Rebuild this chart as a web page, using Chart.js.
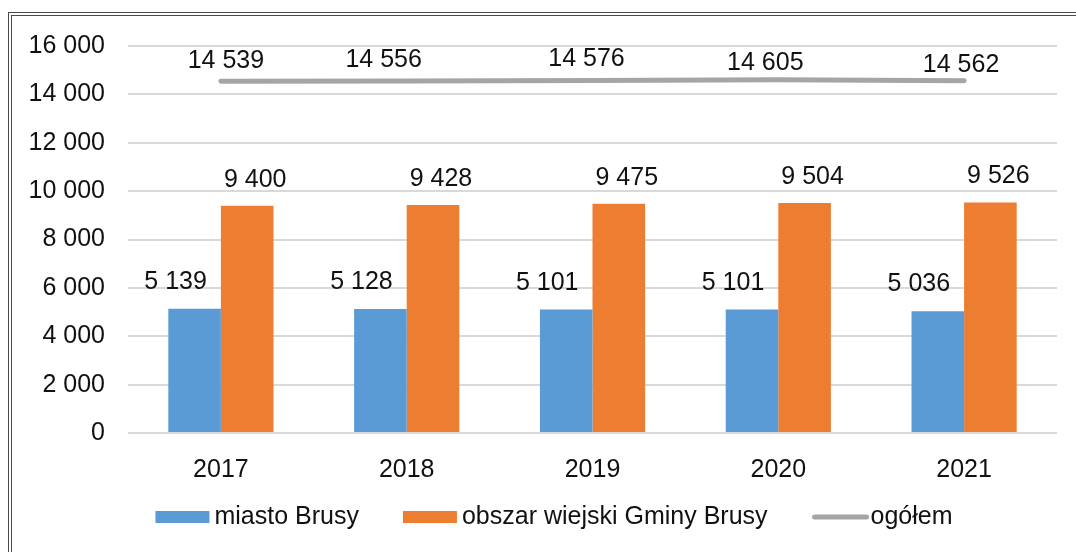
<!DOCTYPE html>
<html lang="pl">
<head>
  <meta charset="UTF-8">
  <title>Ludność gminy Brusy 2017-2021</title>
  <script src="https://cdn.jsdelivr.net/npm/chart.js"></script>
  <style>
    html, body { margin: 0; padding: 0; background: #fff; }
    #wrap { position: relative; width: 1076px; height: 552px; overflow: hidden; }
    #frame {
      position: absolute; left: 8px; top: 12px; width: 1200px; height: 700px;
      border-top: 4px double #4a4a4a; border-left: 4px double #4a4a4a;
    }
    canvas { position: absolute; left: 0; top: 0; }
  </style>
</head>
<body>
<div id="wrap">
  <div id="frame"></div>
  <canvas id="chart" width="1076" height="552"></canvas>
</div>
<script>
  const years = ['2017', '2018', '2019', '2020', '2021'];
  const miasto = [5139, 5128, 5101, 5101, 5036];
  const wies = [9400, 9428, 9475, 9504, 9526];
  const ogolem = [14539, 14556, 14576, 14605, 14562];
  const yTicks = [0, 2000, 4000, 6000, 8000, 10000, 12000, 14000, 16000];

  const FONT = '"Liberation Sans", Arial, sans-serif';
  const FS = 25;
  const fmt = n => String(n).replace(/\B(?=(\d{3})+(?!\d))/g, ' ');

  // label shifts (style only), px
  const labelStyle = [
    { dx: () => -19, dy: () => -27 },
    { dx: () => 8, dy: () => -26 },
    { dx: i => [5, -23, -6, -13, -3][i], dy: i => [-20, -21, -21, -17, -16][i] }
  ];

  const valueLabels = {
    id: 'valueLabels',
    afterDatasetsDraw(chart) {
      const ctx = chart.ctx;
      ctx.save();
      ctx.font = FS + 'px ' + FONT;
      ctx.fillStyle = '#111';
      ctx.textAlign = 'center';
      ctx.textBaseline = 'middle';
      chart.data.datasets.forEach((ds, di) => {
        const meta = chart.getDatasetMeta(di);
        meta.data.forEach((el, i) => {
          const st = labelStyle[di];
          ctx.fillText(fmt(ds.data[i]), el.x + st.dx(i), el.y + st.dy(i));
        });
      });
      ctx.restore();
    }
  };

  const bottomLegend = {
    id: 'bottomLegend',
    afterDraw(chart) {
      const ctx = chart.ctx;
      ctx.save();
      ctx.font = FS + 'px ' + FONT;
      ctx.textBaseline = 'middle';
      const y = 517;
      const items = chart.data.datasets.map(ds => ({
        text: ds.label, color: ds.type === 'line' ? ds.borderColor : ds.backgroundColor,
        line: ds.type === 'line'
      }));
      const sw = 54, gap = 5, between = 44;
      let total = 0;
      items.forEach((it, k) => {
        it.w = ctx.measureText(it.text).width;
        total += sw + gap + it.w + (k < items.length - 1 ? between : 0);
      });
      let x = 554 - total / 2;
      items.forEach(it => {
        if (it.line) {
          ctx.strokeStyle = it.color;
          ctx.lineWidth = 5;
          ctx.lineCap = 'round';
          ctx.beginPath();
          ctx.moveTo(x + 3, y);
          ctx.lineTo(x + sw + 1, y);
          ctx.stroke();
        } else {
          ctx.fillStyle = it.color;
          ctx.fillRect(x, y - 6, sw, 12);
        }
        ctx.fillStyle = '#111';
        ctx.fillText(it.text, x + sw + gap, y);
        x += sw + gap + it.w + between;
      });
      ctx.restore();
    }
  };

  new Chart(document.getElementById('chart'), {
    data: {
      labels: years,
      datasets: [
        { type: 'bar', label: 'miasto Brusy', data: miasto, backgroundColor: '#5b9bd5',
          categoryPercentage: 0.566, barPercentage: 1, order: 2 },
        { type: 'bar', label: 'obszar wiejski Gminy Brusy', data: wies, backgroundColor: '#ed7d31',
          categoryPercentage: 0.566, barPercentage: 1, order: 2 },
        { type: 'line', label: 'ogółem', data: ogolem, borderColor: '#a5a5a5', borderWidth: 5,
          borderCapStyle: 'round', pointRadius: 0, tension: 0, order: 1 }
      ]
    },
    options: {
      responsive: false,
      animation: false,
      layout: { padding: { left: 0, right: 19, top: 46, bottom: 0 } },
      plugins: { legend: { display: false }, tooltip: { enabled: false } },
      scales: {
        x: {
          grid: { display: false },
          border: { display: false },
          ticks: { color: '#111', font: { family: FONT, size: FS }, padding: 14 },
          afterFit(scale) { scale.height = 119; }
        },
        y: {
          min: 0, max: 16000,
          afterBuildTicks(scale) { scale.ticks = yTicks.map(v => ({ value: v })); },
          grid: { color: '#d9d9d9', lineWidth: 2, drawTicks: false },
          border: { display: false },
          ticks: { color: '#111', font: { family: FONT, size: FS }, padding: 23, callback: v => fmt(v) },
          afterFit(scale) { scale.width = 128; }
        }
      }
    },
    plugins: [valueLabels, bottomLegend]
  });
</script>
</body>
</html>
